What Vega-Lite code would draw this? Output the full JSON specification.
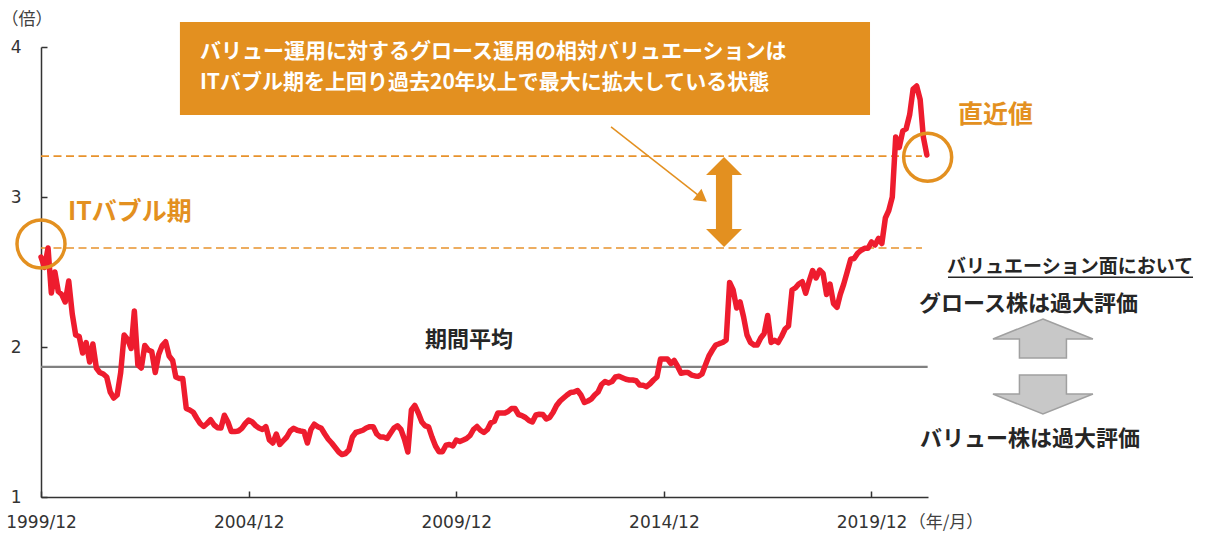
{
  "$schema": "https://vega.github.io/schema/vega-lite/v6.json",
  "width": 887,
  "height": 450,
  "autosize": "none",
  "padding": {"left": 41, "top": 47, "right": 277, "bottom": 36},
  "background": "white",
  "config": {"view": {"stroke": null}},
  "datasets": {
    "series": [
      {"d":"1999-12","v":2.60},
      {"d":"2000-01","v":2.53},{"d":"2000-02","v":2.66},{"d":"2000-03","v":2.36},{"d":"2000-04","v":2.50},{"d":"2000-05","v":2.37},{"d":"2000-06","v":2.35},{"d":"2000-07","v":2.30},{"d":"2000-08","v":2.44},{"d":"2000-09","v":2.22},{"d":"2000-10","v":2.08},{"d":"2000-11","v":2.07},{"d":"2000-12","v":1.96},
      {"d":"2001-01","v":2.03},{"d":"2001-02","v":1.90},{"d":"2001-03","v":2.02},{"d":"2001-04","v":1.86},{"d":"2001-05","v":1.83},{"d":"2001-06","v":1.82},{"d":"2001-07","v":1.80},{"d":"2001-08","v":1.70},{"d":"2001-09","v":1.66},{"d":"2001-10","v":1.68},{"d":"2001-11","v":1.83},{"d":"2001-12","v":2.08},
      {"d":"2002-01","v":2.05},{"d":"2002-02","v":1.99},{"d":"2002-03","v":2.24},{"d":"2002-04","v":1.88},{"d":"2002-05","v":1.86},{"d":"2002-06","v":2.01},{"d":"2002-07","v":1.98},{"d":"2002-08","v":1.97},{"d":"2002-09","v":1.83},{"d":"2002-10","v":1.95},{"d":"2002-11","v":2.01},{"d":"2002-12","v":2.035},
      {"d":"2003-01","v":1.94},{"d":"2003-02","v":1.91},{"d":"2003-03","v":1.80},{"d":"2003-04","v":1.79},{"d":"2003-05","v":1.79},{"d":"2003-06","v":1.59},{"d":"2003-07","v":1.58},{"d":"2003-08","v":1.565},{"d":"2003-09","v":1.525},{"d":"2003-10","v":1.49},{"d":"2003-11","v":1.47},{"d":"2003-12","v":1.49},
      {"d":"2004-01","v":1.515},{"d":"2004-02","v":1.48},{"d":"2004-03","v":1.462},{"d":"2004-04","v":1.46},{"d":"2004-05","v":1.545},{"d":"2004-06","v":1.50},{"d":"2004-07","v":1.436},{"d":"2004-08","v":1.436},{"d":"2004-09","v":1.44},{"d":"2004-10","v":1.458},{"d":"2004-11","v":1.49},{"d":"2004-12","v":1.513},
      {"d":"2005-01","v":1.50},{"d":"2005-02","v":1.475},{"d":"2005-03","v":1.46},{"d":"2005-04","v":1.45},{"d":"2005-05","v":1.469},{"d":"2005-06","v":1.38},{"d":"2005-07","v":1.36},{"d":"2005-08","v":1.42},{"d":"2005-09","v":1.35},{"d":"2005-10","v":1.375},{"d":"2005-11","v":1.40},{"d":"2005-12","v":1.44},
      {"d":"2006-01","v":1.458},{"d":"2006-02","v":1.445},{"d":"2006-03","v":1.44},{"d":"2006-04","v":1.436},{"d":"2006-05","v":1.36},{"d":"2006-06","v":1.45},{"d":"2006-07","v":1.485},{"d":"2006-08","v":1.469},{"d":"2006-09","v":1.458},{"d":"2006-10","v":1.42},{"d":"2006-11","v":1.385},{"d":"2006-12","v":1.36},
      {"d":"2007-01","v":1.33},{"d":"2007-02","v":1.30},{"d":"2007-03","v":1.283},{"d":"2007-04","v":1.29},{"d":"2007-05","v":1.313},{"d":"2007-06","v":1.40},{"d":"2007-07","v":1.43},{"d":"2007-08","v":1.437},{"d":"2007-09","v":1.445},{"d":"2007-10","v":1.46},{"d":"2007-11","v":1.469},{"d":"2007-12","v":1.469},
      {"d":"2008-01","v":1.42},{"d":"2008-02","v":1.40},{"d":"2008-03","v":1.40},{"d":"2008-04","v":1.39},{"d":"2008-05","v":1.425},{"d":"2008-06","v":1.46},{"d":"2008-07","v":1.475},{"d":"2008-08","v":1.45},{"d":"2008-09","v":1.385},{"d":"2008-10","v":1.30},{"d":"2008-11","v":1.58},{"d":"2008-12","v":1.61},
      {"d":"2009-01","v":1.56},{"d":"2009-02","v":1.50},{"d":"2009-03","v":1.475},{"d":"2009-04","v":1.468},{"d":"2009-05","v":1.40},{"d":"2009-06","v":1.34},{"d":"2009-07","v":1.302},{"d":"2009-08","v":1.302},{"d":"2009-09","v":1.345},{"d":"2009-10","v":1.35},{"d":"2009-11","v":1.34},{"d":"2009-12","v":1.38},
      {"d":"2010-01","v":1.37},{"d":"2010-02","v":1.38},{"d":"2010-03","v":1.39},{"d":"2010-04","v":1.41},{"d":"2010-05","v":1.45},{"d":"2010-06","v":1.47},{"d":"2010-07","v":1.445},{"d":"2010-08","v":1.43},{"d":"2010-09","v":1.45},{"d":"2010-10","v":1.495},{"d":"2010-11","v":1.505},{"d":"2010-12","v":1.56},
      {"d":"2011-01","v":1.56},{"d":"2011-02","v":1.56},{"d":"2011-03","v":1.57},{"d":"2011-04","v":1.59},{"d":"2011-05","v":1.59},{"d":"2011-06","v":1.55},{"d":"2011-07","v":1.543},{"d":"2011-08","v":1.53},{"d":"2011-09","v":1.51},{"d":"2011-10","v":1.50},{"d":"2011-11","v":1.547},{"d":"2011-12","v":1.552},
      {"d":"2012-01","v":1.55},{"d":"2012-02","v":1.52},{"d":"2012-03","v":1.53},{"d":"2012-04","v":1.565},{"d":"2012-05","v":1.61},{"d":"2012-06","v":1.64},{"d":"2012-07","v":1.66},{"d":"2012-08","v":1.68},{"d":"2012-09","v":1.697},{"d":"2012-10","v":1.70},{"d":"2012-11","v":1.71},{"d":"2012-12","v":1.68},
      {"d":"2013-01","v":1.63},{"d":"2013-02","v":1.64},{"d":"2013-03","v":1.652},{"d":"2013-04","v":1.68},{"d":"2013-05","v":1.70},{"d":"2013-06","v":1.75},{"d":"2013-07","v":1.77},{"d":"2013-08","v":1.76},{"d":"2013-09","v":1.77},{"d":"2013-10","v":1.80},{"d":"2013-11","v":1.805},{"d":"2013-12","v":1.795},
      {"d":"2014-01","v":1.785},{"d":"2014-02","v":1.78},{"d":"2014-03","v":1.78},{"d":"2014-04","v":1.775},{"d":"2014-05","v":1.747},{"d":"2014-06","v":1.745},{"d":"2014-07","v":1.736},{"d":"2014-08","v":1.755},{"d":"2014-09","v":1.78},{"d":"2014-10","v":1.80},{"d":"2014-11","v":1.92},{"d":"2014-12","v":1.92},
      {"d":"2015-01","v":1.92},{"d":"2015-02","v":1.89},{"d":"2015-03","v":1.91},{"d":"2015-04","v":1.87},{"d":"2015-05","v":1.825},{"d":"2015-06","v":1.83},{"d":"2015-07","v":1.83},{"d":"2015-08","v":1.813},{"d":"2015-09","v":1.807},{"d":"2015-10","v":1.805},{"d":"2015-11","v":1.82},{"d":"2015-12","v":1.88},
      {"d":"2016-01","v":1.94},{"d":"2016-02","v":1.98},{"d":"2016-03","v":2.013},{"d":"2016-04","v":2.022},{"d":"2016-05","v":2.03},{"d":"2016-06","v":2.047},{"d":"2016-07","v":2.43},{"d":"2016-08","v":2.38},{"d":"2016-09","v":2.26},{"d":"2016-10","v":2.30},{"d":"2016-11","v":2.20},{"d":"2016-12","v":2.08},
      {"d":"2017-01","v":2.03},{"d":"2017-02","v":2.013},{"d":"2017-03","v":2.013},{"d":"2017-04","v":2.06},{"d":"2017-05","v":2.09},{"d":"2017-06","v":2.21},{"d":"2017-07","v":2.03},{"d":"2017-08","v":2.045},{"d":"2017-09","v":2.03},{"d":"2017-10","v":2.07},{"d":"2017-11","v":2.12},{"d":"2017-12","v":2.14},
      {"d":"2018-01","v":2.38},{"d":"2018-02","v":2.395},{"d":"2018-03","v":2.42},{"d":"2018-04","v":2.435},{"d":"2018-05","v":2.358},{"d":"2018-06","v":2.44},{"d":"2018-07","v":2.51},{"d":"2018-08","v":2.46},{"d":"2018-09","v":2.513},{"d":"2018-10","v":2.49},{"d":"2018-11","v":2.35},{"d":"2018-12","v":2.42},
      {"d":"2019-01","v":2.29},{"d":"2019-02","v":2.265},{"d":"2019-03","v":2.35},{"d":"2019-04","v":2.42},{"d":"2019-05","v":2.50},{"d":"2019-06","v":2.585},{"d":"2019-07","v":2.59},{"d":"2019-08","v":2.625},{"d":"2019-09","v":2.645},{"d":"2019-10","v":2.658},{"d":"2019-11","v":2.658},{"d":"2019-12","v":2.70},
      {"d":"2020-01","v":2.68},{"d":"2020-02","v":2.724},{"d":"2020-03","v":2.69},{"d":"2020-04","v":2.86},{"d":"2020-05","v":2.91},{"d":"2020-06","v":3.00},{"d":"2020-07","v":3.40},{"d":"2020-08","v":3.33},{"d":"2020-09","v":3.44},{"d":"2020-10","v":3.455},{"d":"2020-11","v":3.55},{"d":"2020-12","v":3.72},
      {"d":"2021-01","v":3.74},{"d":"2021-02","v":3.65},{"d":"2021-03","v":3.40},{"d":"2021-04","v":3.28}
    ]
  },
  "layer": [
    {
      "data": {"values": [{"d1": "2003-04-06", "d2": "2019-11-18", "v1": 4.167, "v2": 3.547}]},
      "mark": {"type": "rect", "color": "#E39020"},
      "encoding": {
        "x": {
          "field": "d1", "type": "temporal", "title": null,
          "scale": {"type": "utc", "domain": ["1999-12-01", "2021-04-11"], "nice": false},
          "axis": {
            "title": null, "grid": false,
            "values": [
              {"year": 1999, "month": 12, "date": 1, "utc": true},
              {"year": 2004, "month": 12, "date": 1, "utc": true},
              {"year": 2009, "month": 12, "date": 1, "utc": true},
              {"year": 2014, "month": 12, "date": 1, "utc": true},
              {"year": 2019, "month": 12, "date": 1, "utc": true}
            ],
            "format": "%Y/%m",
            "domainColor": "#333333", "domainWidth": 1.5,
            "tickColor": "#333333", "tickWidth": 1.5, "tickSize": -6,
            "labelFont": "DejaVu Sans", "labelFontSize": 17, "labelColor": "#333333",
            "labelPadding": 23, "labelOverlap": false, "labelFlush": false
          }
        },
        "x2": {"field": "d2"},
        "y": {
          "field": "v1", "type": "quantitative", "title": null,
          "scale": {"domain": [1, 4], "nice": false, "zero": false},
          "axis": {
            "title": null, "grid": false, "values": [1, 2, 3, 4], "format": "d",
            "domainColor": "#333333", "domainWidth": 1.5,
            "tickColor": "#333333", "tickWidth": 1.5, "tickSize": -6,
            "labelFont": "DejaVu Sans", "labelFontSize": 17, "labelColor": "#333333",
            "labelPadding": 26, "labelOverlap": false, "labelFlush": false
          }
        },
        "y2": {"field": "v2"}
      }
    },
    {
      "data": {"values": [
        {"t": "バリュー運用に対するグロース運用の相対バリュエーションは", "d": "2003-09-29", "v": 3.967},
        {"t": "ITバブル期を上回り過去20年以上で最大に拡大している状態", "d": "2003-09-29", "v": 3.76}
      ]},
      "mark": {"type": "text", "align": "left", "baseline": "middle", "color": "white", "font": "Noto Sans CJK JP", "fontWeight": "bold", "fontSize": 21},
      "encoding": {
        "x": {"field": "d", "type": "temporal", "title": null},
        "y": {"field": "v", "type": "quantitative", "title": null},
        "text": {"field": "t"}
      }
    },
    {
      "data": {"values": [
        {"v": 3.273, "d1": "1999-12-01", "d2": "2021-02-17"},
        {"v": 2.66, "d1": "1999-12-01", "d2": "2021-02-17"}
      ]},
      "mark": {"type": "rule", "color": "#E8922C", "strokeWidth": 1.7, "strokeDash": [8, 4.5]},
      "encoding": {
        "x": {"field": "d1", "type": "temporal", "title": null},
        "x2": {"field": "d2"},
        "y": {"field": "v", "type": "quantitative", "title": null}
      }
    },
    {
      "data": {"values": [{"v": 1.867, "d1": "1999-12-01", "d2": "2021-04-08"}]},
      "mark": {"type": "rule", "color": "#808080", "strokeWidth": 2.2},
      "encoding": {
        "x": {"field": "d1", "type": "temporal", "title": null},
        "x2": {"field": "d2"},
        "y": {"field": "v", "type": "quantitative", "title": null}
      }
    },
    {
      "data": {"name": "series"},
      "mark": {"type": "line", "color": "#EE1C2E", "strokeWidth": 5.5, "strokeJoin": "round", "strokeCap": "round"},
      "encoding": {
        "x": {"field": "d", "type": "temporal", "title": null},
        "y": {"field": "v", "type": "quantitative", "title": null}
      }
    },
    {
      "data": {"values": [
        {"d": "1999-12-01", "v": 2.687},
        {"d": "2021-04-08", "v": 3.265}
      ]},
      "mark": {"type": "point", "shape": "circle", "filled": false, "size": 2304, "stroke": "#E39020", "strokeWidth": 3.5, "opacity": 1},
      "encoding": {
        "x": {"field": "d", "type": "temporal", "title": null},
        "y": {"field": "v", "type": "quantitative", "title": null}
      }
    },
    {
      "data": {"values": [
        {"t": "ITバブル期", "d": "2000-07-25", "v": 2.90},
        {"t": "直近値", "d": "2021-12-31", "v": 3.547}
      ]},
      "mark": {"type": "text", "align": "left", "baseline": "middle", "color": "#E39020", "font": "Noto Sans CJK JP", "fontWeight": "bold", "fontSize": 25},
      "encoding": {
        "x": {"field": "d", "type": "temporal", "title": null},
        "y": {"field": "v", "type": "quantitative", "title": null},
        "text": {"field": "t"}
      }
    },
    {
      "data": {"values": [{"t": "期間平均", "d": "2010-03-23", "v": 2.047}]},
      "mark": {"type": "text", "align": "center", "baseline": "middle", "color": "#262626", "font": "Noto Sans CJK JP", "fontWeight": "bold", "fontSize": 22},
      "encoding": {
        "x": {"field": "d", "type": "temporal", "title": null},
        "y": {"field": "v", "type": "quantitative", "title": null},
        "text": {"field": "t"}
      }
    },
    {
      "data": {"values": [{"d": "2016-05-13", "v": 2.967}]},
      "mark": {"type": "point", "filled": true, "opacity": 1, "color": "#E39020", "size": 8100,
               "shape": "M0,-1L0.4,-0.6L0.18,-0.6L0.18,0.6L0.4,0.6L0,1L-0.4,0.6L-0.18,0.6L-0.18,-0.6L-0.4,-0.6Z"},
      "encoding": {
        "x": {"field": "d", "type": "temporal", "title": null},
        "y": {"field": "v", "type": "quantitative", "title": null}
      }
    },
    {
      "data": {"values": [{"d1": "2013-08-23", "v1": 3.467, "d2": "2015-11-01", "v2": 2.993}]},
      "mark": {"type": "rule", "color": "#E39020", "strokeWidth": 1.5},
      "encoding": {
        "x": {"field": "d1", "type": "temporal", "title": null},
        "x2": {"field": "d2"},
        "y": {"field": "v1", "type": "quantitative", "title": null},
        "y2": {"field": "v2"}
      }
    },
    {
      "data": {"values": [{"d": "2015-11-01", "v": 2.993}]},
      "mark": {"type": "point", "shape": "triangle-right", "filled": true, "opacity": 1, "color": "#E39020", "size": 200, "angle": 37.6},
      "encoding": {
        "x": {"field": "d", "type": "temporal", "title": null},
        "y": {"field": "v", "type": "quantitative", "title": null}
      }
    },
    {
      "data": {"values": [
        {"t": "バリュエーション面において", "d": "2024-09-12", "v": 2.533, "s": 19},
        {"t": "グロース株は過大評価", "d": "2023-09-12", "v": 2.29, "s": 22},
        {"t": "バリュー株は過大評価", "d": "2023-09-25", "v": 1.39, "s": 22}
      ]},
      "mark": {"type": "text", "align": "center", "baseline": "middle", "color": "#262626", "font": "Noto Sans CJK JP", "fontWeight": "bold"},
      "encoding": {
        "x": {"field": "d", "type": "temporal", "title": null},
        "y": {"field": "v", "type": "quantitative", "title": null},
        "text": {"field": "t"},
        "size": {"field": "s", "type": "quantitative", "scale": null, "legend": null}
      }
    },
    {
      "data": {"values": [{"d1": "2021-10-04", "d2": "2027-08-29", "v": 2.465}]},
      "mark": {"type": "rule", "color": "#262626", "strokeWidth": 1.5},
      "encoding": {
        "x": {"field": "d1", "type": "temporal", "title": null},
        "x2": {"field": "d2"},
        "y": {"field": "v", "type": "quantitative", "title": null}
      }
    },
    {
      "data": {"values": [{"d": "2024-01-17", "v": 2.057}]},
      "mark": {"type": "point", "filled": true, "opacity": 1, "fill": "#C8C8C8", "stroke": "#A0A0A0", "strokeWidth": 1.5, "size": 10000,
               "shape": "M0,-0.39L1,0.01L0.47,0.01L0.47,0.39L-0.47,0.39L-0.47,0.01L-1,0.01Z"},
      "encoding": {
        "x": {"field": "d", "type": "temporal", "title": null},
        "y": {"field": "v", "type": "quantitative", "title": null}
      }
    },
    {
      "data": {"values": [{"d": "2024-01-17", "v": 1.683}]},
      "mark": {"type": "point", "filled": true, "opacity": 1, "fill": "#C8C8C8", "stroke": "#A0A0A0", "strokeWidth": 1.5, "size": 10000,
               "shape": "M-0.47,-0.39L0.47,-0.39L0.47,-0.01L1,-0.01L0,0.39L-1,-0.01L-0.47,-0.01Z"},
      "encoding": {
        "x": {"field": "d", "type": "temporal", "title": null},
        "y": {"field": "v", "type": "quantitative", "title": null}
      }
    },
    {
      "data": {"values": [
        {"t": "（倍）", "d": "1999-07-31", "v": 4.177},
        {"t": "（年/月）", "d": "2021-09-16", "v": 0.827}
      ]},
      "mark": {"type": "text", "align": "center", "baseline": "middle", "color": "#404040", "font": "Noto Sans CJK JP", "fontSize": 17},
      "encoding": {
        "x": {"field": "d", "type": "temporal", "title": null},
        "y": {"field": "v", "type": "quantitative", "title": null},
        "text": {"field": "t"}
      }
    }
  ]
}
